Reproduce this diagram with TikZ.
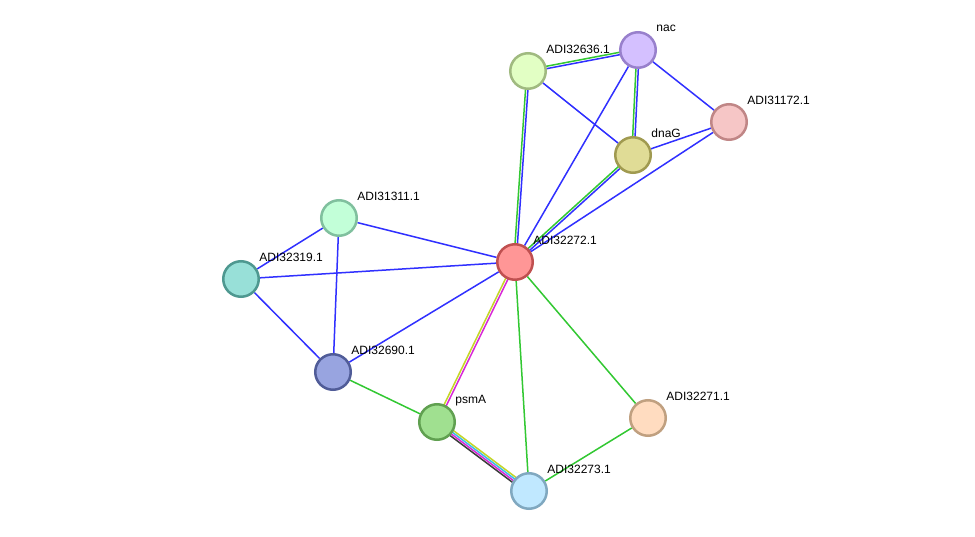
\documentclass[tikz,border=0pt]{standalone}
\usepackage{fontspec}
\setmainfont{Liberation Sans}
\usetikzlibrary{calc,backgrounds}

\definecolor{eblue}{RGB}{48,48,255}
\definecolor{egreen}{RGB}{50,200,50}
\definecolor{eyellow}{RGB}{196,214,40}
\definecolor{emagenta}{RGB}{216,40,216}
\definecolor{ecyan}{RGB}{60,190,230}
\definecolor{eblack}{RGB}{60,60,60}

% one strand of a multi-evidence edge, shifted sideways by #3
\newcommand\strand[4]{%
  \draw[edge,#4] ($(#1.center)!#3!90:(#2.center)$) -- ($(#2.center)!#3!-90:(#1.center)$);}

\begin{document}
\begin{tikzpicture}[
  x=1pt, y=-1pt,
  prot/.style={
    circle, line width=2.5pt, minimum size=35.5pt, inner sep=0pt
  },
  lbl/.style={
    font=\fontsize{12}{14}\selectfont, anchor=west, inner sep=0pt,
    xshift=6pt, yshift=7pt
  },
  edge/.style={line width=1.5pt},
]

\useasboundingbox (0,0) rectangle (975,537);

\node[prot, fill={rgb,255:red,255;green,150;blue,150}, draw={rgb,255:red,192;green,80;blue,80},
  label={[lbl]50.7:ADI32272.1}] (adi32272) at (515,262) {};
\node[prot, fill={rgb,255:red,212;green,192;blue,255}, draw={rgb,255:red,152;green,128;blue,204},
  label={[lbl]50.7:nac}] (nac) at (638,50) {};
\node[prot, fill={rgb,255:red,226;green,255;blue,196}, draw={rgb,255:red,160;green,186;blue,128},
  label={[lbl]50.7:ADI32636.1}] (adi32636) at (528,71) {};
\node[prot, fill={rgb,255:red,246;green,198;blue,198}, draw={rgb,255:red,192;green,134;blue,134},
  label={[lbl]50.7:ADI31172.1}] (adi31172) at (729,122) {};
\node[prot, fill={rgb,255:red,224;green,220;blue,150}, draw={rgb,255:red,160;green,154;blue,80},
  label={[lbl]50.7:dnaG}] (dnag) at (633,155) {};
\node[prot, fill={rgb,255:red,194;green,255;blue,216}, draw={rgb,255:red,128;green,192;blue,158},
  label={[lbl]50.7:ADI31311.1}] (adi31311) at (339,218) {};
\node[prot, fill={rgb,255:red,152;green,224;blue,216}, draw={rgb,255:red,78;green,152;blue,144},
  label={[lbl]50.7:ADI32319.1}] (adi32319) at (241,279) {};
\node[prot, fill={rgb,255:red,152;green,164;blue,224}, draw={rgb,255:red,80;green,92;blue,152},
  label={[lbl]50.7:ADI32690.1}] (adi32690) at (333,372) {};
\node[prot, fill={rgb,255:red,160;green,224;blue,144}, draw={rgb,255:red,96;green,160;blue,80},
  label={[lbl]50.7:psmA}] (psma) at (437,422) {};
\node[prot, fill={rgb,255:red,255;green,220;blue,192}, draw={rgb,255:red,192;green,160;blue,128},
  label={[lbl]50.7:ADI32271.1}] (adi32271) at (648,418) {};
\node[prot, fill={rgb,255:red,192;green,232;blue,255}, draw={rgb,255:red,128;green,168;blue,192},
  label={[lbl]50.7:ADI32273.1}] (adi32273) at (529,491) {};

\begin{pgfonlayer}{background}
\fill[white] (0,0) rectangle (975,537);

% single evidence
\draw[edge, eblue] (adi32636) -- (dnag);
\draw[edge, eblue] (nac) -- (adi32272);
\draw[edge, eblue] (nac) -- (adi31172);
\draw[edge, eblue] (dnag) -- (adi31172);
\draw[edge, eblue] (adi31172) -- (adi32272);
\draw[edge, eblue] (adi31311) -- (adi32319);
\draw[edge, eblue] (adi31311) -- (adi32690);
\draw[edge, eblue] (adi31311) -- (adi32272);
\draw[edge, eblue] (adi32319) -- (adi32272);
\draw[edge, eblue] (adi32319) -- (adi32690);
\draw[edge, eblue] (adi32690) -- (adi32272);
\draw[edge, egreen] (adi32690) -- (psma);
\draw[edge, egreen] (adi32272) -- (adi32273);
\draw[edge, egreen] (adi32272) -- (adi32271);
\draw[edge, egreen] (adi32271) -- (adi32273);

% two strands
\strand{adi32636}{nac}{1.2pt}{egreen}
\strand{adi32636}{nac}{-1.2pt}{eblue}
\strand{adi32636}{adi32272}{-1.2pt}{egreen}
\strand{adi32636}{adi32272}{1.2pt}{eblue}
\strand{nac}{dnag}{-1.2pt}{egreen}
\strand{nac}{dnag}{1.2pt}{eblue}
\strand{dnag}{adi32272}{-1.2pt}{egreen}
\strand{dnag}{adi32272}{1.2pt}{eblue}
\strand{adi32272}{psma}{-1.2pt}{eyellow}
\strand{adi32272}{psma}{1.2pt}{emagenta}

% four strands
\strand{psma}{adi32273}{3pt}{eyellow}
\strand{psma}{adi32273}{1pt}{ecyan}
\strand{psma}{adi32273}{-1pt}{emagenta}
\strand{psma}{adi32273}{-3pt}{eblack}
\end{pgfonlayer}

\end{tikzpicture}
\end{document}
